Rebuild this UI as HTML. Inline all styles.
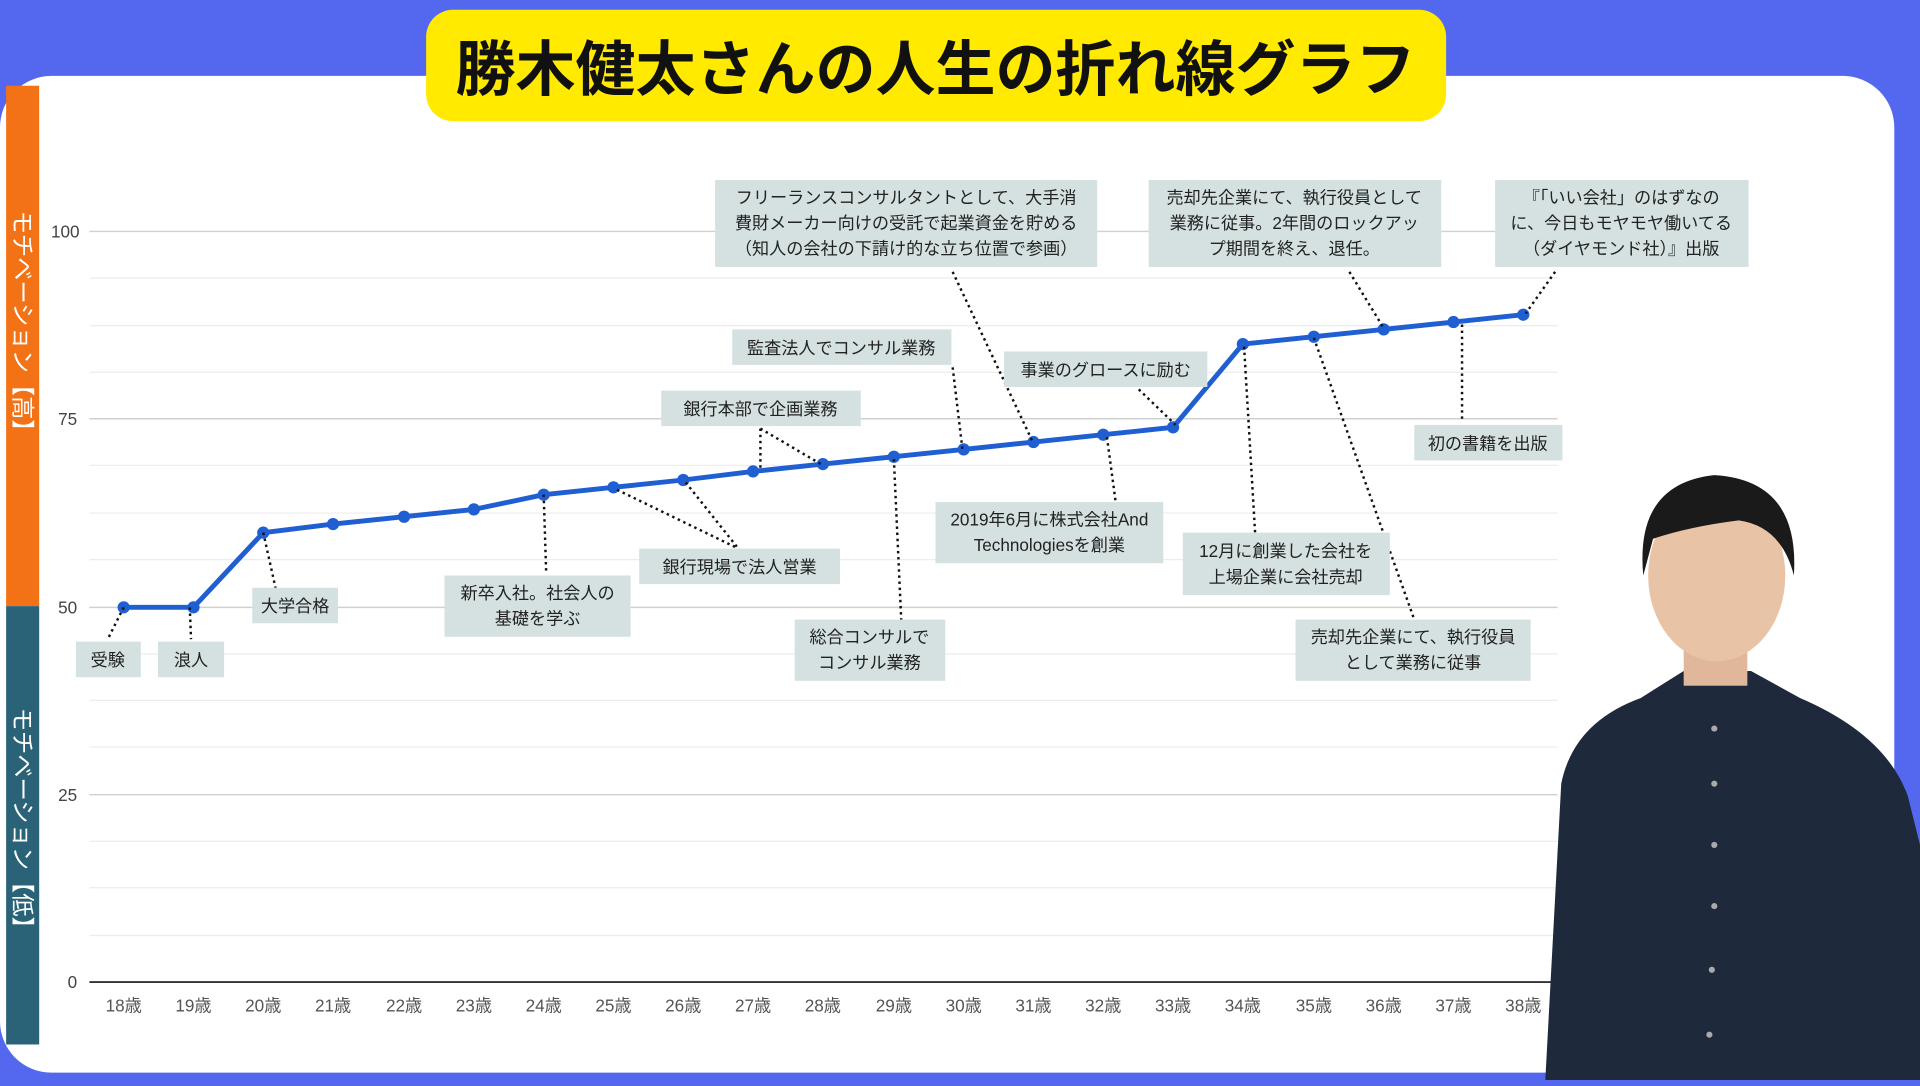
<!DOCTYPE html>
<html><head><meta charset="utf-8"><style>
html,body{margin:0;padding:0;width:1920px;height:1080px;overflow:hidden;background:#5468ef;}
#w{position:absolute;left:0;top:0;width:1568px;height:882px;transform:scale(1.22449);transform-origin:0 0;font-family:"Liberation Sans","Noto Sans CJK JP",sans-serif;}
</style></head><body><div id="w">
<svg width="1568" height="882" viewBox="0 0 1568 882" xmlns="http://www.w3.org/2000/svg" font-family="Liberation Sans, Noto Sans CJK JP, sans-serif">
<rect x="0" y="0" width="1568" height="882" fill="#5468ef"/>
<rect x="0" y="62" width="1547" height="814" rx="42" fill="#fff"/>
<rect x="5" y="70" width="27" height="425" fill="#f47216"/>
<rect x="5" y="495" width="27" height="358" fill="#2a6378"/>
<text transform="translate(12,172) rotate(90)" fill="#fff" font-size="19">モチベーション【高】</text>
<text transform="translate(12,578) rotate(90)" fill="#fff" font-size="19">モチベーション【低】</text>
<rect x="348" y="8" width="833" height="91" rx="22" fill="#ffea00"/>
<text x="764" y="74" text-anchor="middle" font-size="49" font-weight="bold" fill="#111">勝木健太さんの人生の折れ線グラフ</text>
<g stroke="#ececec" stroke-width="1">
<line x1="73" x2="1272" y1="266" y2="266"/><line x1="73" x2="1272" y1="419" y2="419"/><line x1="73" x2="1272" y1="572" y2="572"/><line x1="73" x2="1272" y1="725" y2="725"/>
<line x1="73" x2="1272" y1="227" y2="227"/><line x1="73" x2="1272" y1="304" y2="304"/><line x1="73" x2="1272" y1="380" y2="380"/><line x1="73" x2="1272" y1="457" y2="457"/><line x1="73" x2="1272" y1="534" y2="534"/><line x1="73" x2="1272" y1="610" y2="610"/><line x1="73" x2="1272" y1="687" y2="687"/><line x1="73" x2="1272" y1="764" y2="764"/>
</g>
<g stroke="#d0d0d0" stroke-width="1.2">
<line x1="73" x2="1272" y1="189" y2="189"/><line x1="73" x2="1272" y1="342" y2="342"/><line x1="73" x2="1272" y1="496" y2="496"/><line x1="73" x2="1272" y1="649" y2="649"/>
</g>
<line x1="73" x2="1272" y1="802" y2="802" stroke="#333" stroke-width="1.5"/>
<g font-size="14" fill="#444" text-anchor="end">
<text x="65" y="194">100</text><text x="63" y="347">75</text><text x="63" y="501">50</text><text x="63" y="654">25</text><text x="63" y="807">0</text>
</g>
<g font-size="14" fill="#555" text-anchor="middle">
<text x="101" y="826">18歳</text><text x="158" y="826">19歳</text><text x="215" y="826">20歳</text><text x="272" y="826">21歳</text><text x="330" y="826">22歳</text><text x="387" y="826">23歳</text><text x="444" y="826">24歳</text><text x="501" y="826">25歳</text><text x="558" y="826">26歳</text><text x="615" y="826">27歳</text><text x="672" y="826">28歳</text><text x="730" y="826">29歳</text><text x="787" y="826">30歳</text><text x="844" y="826">31歳</text><text x="901" y="826">32歳</text><text x="958" y="826">33歳</text><text x="1015" y="826">34歳</text><text x="1073" y="826">35歳</text><text x="1130" y="826">36歳</text><text x="1187" y="826">37歳</text><text x="1244" y="826">38歳</text>
</g>
<polyline fill="none" stroke="#1f5fd1" stroke-width="4" stroke-linejoin="round" points="101,496 158,496 215,435 272,428 330,422 387,416 444,404 501,398 558,392 615,385 672,379 730,373 787,367 844,361 901,355 958,349 1015,281 1073,275 1130,269 1187,263 1244,257"/>
<g fill="#1f5fd1">
<circle cx="101" cy="496" r="5"/><circle cx="158" cy="496" r="5"/><circle cx="215" cy="435" r="5"/><circle cx="272" cy="428" r="5"/><circle cx="330" cy="422" r="5"/><circle cx="387" cy="416" r="5"/><circle cx="444" cy="404" r="5"/><circle cx="501" cy="398" r="5"/><circle cx="558" cy="392" r="5"/><circle cx="615" cy="385" r="5"/><circle cx="672" cy="379" r="5"/><circle cx="730" cy="373" r="5"/><circle cx="787" cy="367" r="5"/><circle cx="844" cy="361" r="5"/><circle cx="901" cy="355" r="5"/><circle cx="958" cy="349" r="5"/><circle cx="1015" cy="281" r="5"/><circle cx="1073" cy="275" r="5"/><circle cx="1130" cy="269" r="5"/><circle cx="1187" cy="263" r="5"/><circle cx="1244" cy="257" r="5"/>
</g>
<g stroke="#111" stroke-width="2" stroke-dasharray="2,3" fill="none">
<line x1="101" y1="496" x2="88" y2="522"/><line x1="155" y1="496" x2="156" y2="522"/><line x1="215" y1="435" x2="225" y2="480"/><line x1="444" y1="404" x2="446" y2="466"/>
<line x1="504" y1="400" x2="603" y2="448"/><line x1="560" y1="394" x2="603" y2="448"/>
<line x1="621" y1="350" x2="621" y2="384"/><line x1="621" y1="350" x2="672" y2="380"/>
<line x1="730" y1="375" x2="736" y2="506"/><line x1="778" y1="300" x2="786" y2="367"/><line x1="778" y1="222" x2="843" y2="360"/>
<line x1="904" y1="357" x2="911" y2="409"/><line x1="930" y1="318" x2="960" y2="347"/><line x1="1016" y1="283" x2="1025" y2="435"/>
<line x1="1102" y1="222" x2="1130" y2="268"/><line x1="1073" y1="276" x2="1155" y2="506"/><line x1="1194" y1="265" x2="1194" y2="345"/><line x1="1270" y1="222" x2="1246" y2="256"/>
</g>
<g fill="#d5e1e1">
<rect x="62" y="524" width="53" height="29"/><rect x="129" y="524" width="54" height="29"/><rect x="206" y="480" width="70" height="29"/>
<rect x="363" y="470" width="152" height="50"/><rect x="522" y="448" width="164" height="29"/><rect x="540" y="319" width="163" height="29"/>
<rect x="649" y="506" width="123" height="50"/><rect x="598" y="269" width="179" height="29"/><rect x="584" y="147" width="312" height="71"/>
<rect x="764" y="410" width="186" height="50"/><rect x="820" y="287" width="166" height="29"/><rect x="966" y="435" width="169" height="51"/>
<rect x="938" y="147" width="239" height="71"/><rect x="1058" y="506" width="192" height="50"/><rect x="1155" y="347" width="121" height="29"/><rect x="1221" y="147" width="207" height="71"/>
</g>
<g font-size="14" fill="#222" text-anchor="middle">
<text x="88" y="544">受験</text><text x="156" y="544">浪人</text><text x="241" y="500">大学合格</text>
<text x="439" y="489">新卒入社。社会人の</text><text x="439" y="510">基礎を学ぶ</text>
<text x="604" y="468">銀行現場で法人営業</text><text x="621" y="339">銀行本部で企画業務</text>
<text x="710" y="525">総合コンサルで</text><text x="710" y="546">コンサル業務</text>
<text x="687" y="289">監査法人でコンサル業務</text>
<text x="740" y="166">フリーランスコンサルタントとして、大手消</text><text x="740" y="187">費財メーカー向けの受託で起業資金を貯める</text><text x="740" y="208">（知人の会社の下請け的な立ち位置で参画）</text>
<text x="857" y="429">2019年6月に株式会社And</text><text x="857" y="450">Technologiesを創業</text>
<text x="903" y="307">事業のグロースに励む</text>
<text x="1050" y="455">12月に創業した会社を</text><text x="1050" y="476">上場企業に会社売却</text>
<text x="1057" y="166">売却先企業にて、執行役員として</text><text x="1057" y="187">業務に従事。2年間のロックアッ</text><text x="1057" y="208">プ期間を終え、退任。</text>
<text x="1154" y="525">売却先企業にて、執行役員</text><text x="1154" y="546">として業務に従事</text>
<text x="1215" y="367">初の書籍を出版</text>
<text x="1324" y="166">『「いい会社」のはずなの</text><text x="1324" y="187">に、今日もモヤモヤ働いてる</text><text x="1324" y="208">（ダイヤモンド社）』出版</text>
</g>
<path d="M1262,882 L1275,640 Q1285,590 1340,570 L1375,548 L1430,548 L1470,570 Q1540,600 1558,650 L1568,690 L1568,882 Z" fill="#1e2a3b"/>
<rect x="1375" y="505" width="52" height="55" fill="#e0b79a"/>
<ellipse cx="1402" cy="470" rx="56" ry="70" fill="#e8c3a6"/>
<path d="M1342,470 Q1335,395 1400,388 Q1470,392 1465,470 Q1455,430 1420,425 Q1380,430 1350,440 Z" fill="#1a1a1a"/>
<circle cx="1400" cy="595" r="2.5" fill="#aaa"/><circle cx="1400" cy="640" r="2.5" fill="#aaa"/><circle cx="1400" cy="690" r="2.5" fill="#aaa"/><circle cx="1400" cy="740" r="2.5" fill="#aaa"/><circle cx="1398" cy="792" r="2.5" fill="#aaa"/><circle cx="1396" cy="845" r="2.5" fill="#aaa"/>
</svg>
</div></body></html>
